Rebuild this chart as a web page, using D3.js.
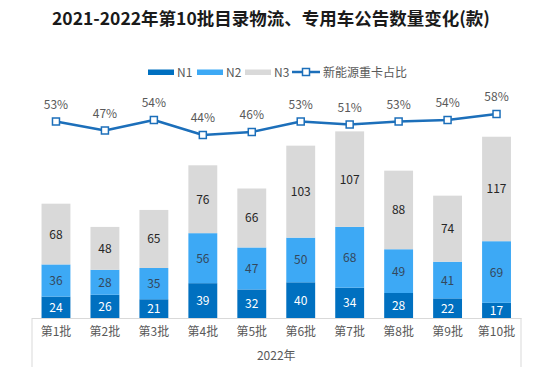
<!DOCTYPE html>
<html><head><meta charset="utf-8">
<script src="https://cdn.jsdelivr.net/npm/d3@7"></script>
<style>
body{margin:0;background:#fff;}
svg{display:block;font-family:"Noto Sans CJK SC","Noto Sans",sans-serif;}
</style></head>
<body>
<svg id="c" width="550" height="377"></svg>
<script>
const categories = ["第1批","第2批","第3批","第4批","第5批","第6批","第7批","第8批","第9批","第10批"];
const n1 = [24,26,21,39,32,40,34,28,22,17];
const n2 = [36,28,35,56,47,50,68,49,41,69];
const n3 = [68,48,65,76,66,103,107,88,74,117];
const share = [0.53,0.47,0.54,0.44,0.46,0.53,0.51,0.53,0.54,0.58];
const seriesNames = ["N1","N2","N3"];
const lineName = "新能源重卡占比";
const groupLabel = "2022年";
const title = "2021-2022年第10批目录物流、专用车公告数量变化(款)";

const colors = {N1:"#0070C0", N2:"#3DA9F5", N3:"#D9D9D9"};
const labelColors = {N1:"#FFFFFF", N2:"#34485C", N3:"#262626"};
const lineColor = "#1C6FBA";

const svg = d3.select("#c");
const x = d3.scaleBand().domain(categories).range([31.5, 521]).paddingInner(0.41).paddingOuter(0.205);
const y = d3.scaleLinear().domain([0, 250]).range([318, 94.75]);
const y2 = d3.scaleLinear().domain([0, 1]).range([201, 51]);

// title
svg.append("text").attr("x", 271).attr("y", 25).attr("text-anchor","middle")
  .attr("font-size", 17.5).attr("font-weight", "bold").attr("fill", "#1a1a1a").text(title);

// stacked data
const rows = categories.map((c,i)=>({cat:c, N1:n1[i], N2:n2[i], N3:n3[i]}));
const stack = d3.stack().keys(seriesNames)(rows);

const g = svg.append("g");
stack.forEach(layer=>{
  const key = layer.key;
  g.selectAll(null).data(layer).enter().append("rect")
    .attr("x", d=>x(d.data.cat))
    .attr("width", x.bandwidth())
    .attr("y", d=>y(d[1]))
    .attr("height", d=>y(d[0])-y(d[1]))
    .attr("fill", colors[key]);
  g.selectAll(null).data(layer).enter().append("text")
    .attr("x", d=>x(d.data.cat)+x.bandwidth()/2)
    .attr("y", d=>(y(d[0])+y(d[1]))/2+4.5)
    .attr("text-anchor","middle").attr("font-size", 12)
    .attr("fill", labelColors[key])
    .text(d=>d.data[key]);
});

// axis
const axis = d3.axisBottom(x).tickSize(0).tickPadding(9);
const ax = svg.append("g").attr("transform","translate(0,318)").call(axis);
ax.select(".domain").attr("stroke","#D9D9D9");
ax.selectAll("text").attr("font-size",12).attr("fill","#595959").attr("font-family","\"Noto Sans CJK SC\",sans-serif");
svg.append("line").attr("x1",32).attr("x2",32).attr("y1",318).attr("y2",367).attr("stroke","#D9D9D9");
svg.append("line").attr("x1",521).attr("x2",521).attr("y1",318).attr("y2",367).attr("stroke","#D9D9D9");
svg.append("text").attr("x",(31.5+521)/2).attr("y",360).attr("text-anchor","middle")
  .attr("font-size",12).attr("fill","#595959").text(groupLabel);

// line
const pts = categories.map((c,i)=>({cat:c, v:share[i]}));
const lineGen = d3.line().x(d=>x(d.cat)+x.bandwidth()/2).y(d=>y2(d.v));
svg.append("path").datum(pts).attr("d", lineGen).attr("fill","none")
  .attr("stroke", lineColor).attr("stroke-width", 2.5).attr("stroke-linejoin","round");
svg.selectAll(null).data(pts).enter().append("rect")
  .attr("x", d=>x(d.cat)+x.bandwidth()/2-3.5).attr("y", d=>y2(d.v)-3.5)
  .attr("width",7).attr("height",7).attr("fill","#fff").attr("stroke",lineColor).attr("stroke-width",1.5);
svg.selectAll(null).data(pts).enter().append("text")
  .attr("x", d=>x(d.cat)+x.bandwidth()/2).attr("y", d=>y2(d.v)-13)
  .attr("text-anchor","middle").attr("font-size",12).attr("fill","#595959")
  .text(d=>Math.round(d.v*100)+"%");

// legend
const lg = svg.append("g").attr("font-size",12).attr("fill","#595959");
const legendItems = [
  {name:"N1", x:148, type:"rect"},
  {name:"N2", x:197, type:"rect"},
  {name:"N3", x:245, type:"rect"},
  {name:lineName, x:292, type:"line"}
];
legendItems.forEach(it=>{
  if(it.type==="rect"){
    lg.append("rect").attr("x",it.x).attr("y",69.5).attr("width",26).attr("height",5.5).attr("fill",colors[it.name]);
    lg.append("text").attr("x",it.x+29).attr("y",76.5).attr("fill","#595959").text(it.name);
  } else {
    lg.append("line").attr("x1",it.x).attr("x2",it.x+28).attr("y1",72).attr("y2",72).attr("stroke",lineColor).attr("stroke-width",2.5);
    lg.append("rect").attr("x",it.x+10.5).attr("y",68.5).attr("width",7).attr("height",7).attr("fill","#fff").attr("stroke",lineColor).attr("stroke-width",1.5);
    lg.append("text").attr("x",it.x+31).attr("y",76.5).attr("fill","#595959").text(it.name);
  }
});
</script>
</body></html>
